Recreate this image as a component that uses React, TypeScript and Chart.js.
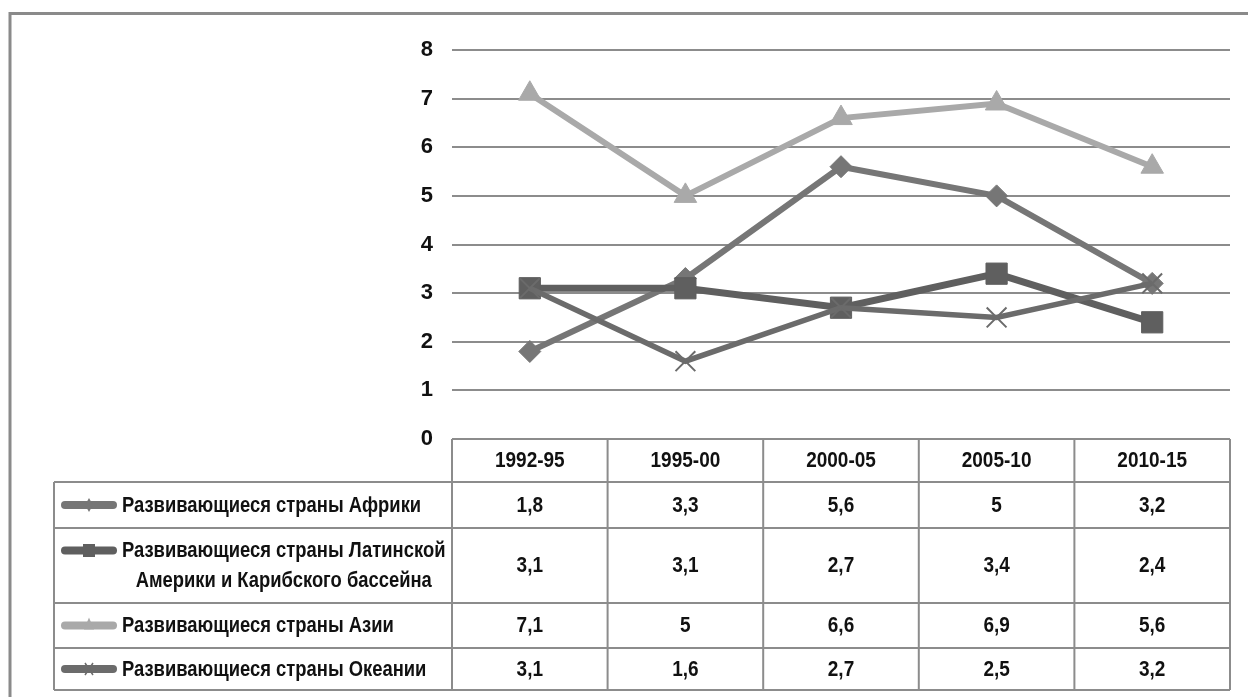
import React, { useEffect, useRef } from 'react';
import { Chart, registerables } from 'chart.js';

Chart.register(...registerables);

const categories = ['1992-95', '1995-00', '2000-05', '2005-10', '2010-15'];
const africa = [1.8, 3.3, 5.6, 5, 3.2];
const latinAmerica = [3.1, 3.1, 2.7, 3.4, 2.4];
const asia = [7.1, 5, 6.6, 6.9, 5.6];
const oceania = [3.1, 1.6, 2.7, 2.5, 3.2];
const seriesLabels = [
  ['Развивающиеся страны Африки'],
  ['Развивающиеся страны Латинской', 'Америки и Карибского бассейна'],
  ['Развивающиеся страны Азии'],
  ['Развивающиеся страны Океании'],
];
const yMin = 0;
const yMax = 8;
const yStep = 1;

const FONT = "'Liberation Sans', Arial, sans-serif";
const GRID = '#8c8c8c';
const colors = ['#767676', '#5f5f5f', '#a9a9a9', '#6b6b6b'];
const styles = ['rectRot', 'rect', 'triangle', 'crossRot'];
const seriesData = [africa, latinAmerica, asia, oceania];

const fmt = (v: number) => String(v).replace('.', ',');

function stretchedText(ctx: CanvasRenderingContext2D, text: string, x: number, y: number, sy: number) {
  ctx.save();
  ctx.translate(x, y);
  ctx.scale(1, sy);
  ctx.fillText(text, 0, 0);
  ctx.restore();
}

function drawMiniMarker(ctx: CanvasRenderingContext2D, style: string, x: number, y: number, color: string) {
  ctx.save();
  ctx.fillStyle = color;
  ctx.strokeStyle = color;
  ctx.beginPath();
  if (style === 'rectRot') {
    ctx.moveTo(x, y - 7);
    ctx.lineTo(x + 4, y);
    ctx.lineTo(x, y + 7);
    ctx.lineTo(x - 4, y);
    ctx.closePath();
    ctx.fill();
  } else if (style === 'rect') {
    ctx.rect(x - 6, y - 6.5, 12, 13);
    ctx.fill();
  } else if (style === 'triangle') {
    ctx.moveTo(x, y - 8);
    ctx.lineTo(x + 5, y + 4);
    ctx.lineTo(x - 5, y + 4);
    ctx.closePath();
    ctx.fill();
  } else {
    ctx.lineWidth = 1.5;
    ctx.moveTo(x - 4, y - 6);
    ctx.lineTo(x + 4, y + 6);
    ctx.moveTo(x + 4, y - 6);
    ctx.lineTo(x - 4, y + 6);
    ctx.stroke();
  }
  ctx.restore();
}

const framePlugin = {
  id: 'frame',
  beforeDraw(chart: any) {
    const { ctx } = chart;
    ctx.save();
    ctx.fillStyle = '#ffffff';
    ctx.fillRect(0, 0, chart.width, chart.height);
    ctx.strokeStyle = '#8a8a8a';
    ctx.lineWidth = 3;
    ctx.beginPath();
    ctx.moveTo(10, chart.height + 5);
    ctx.lineTo(10, 13.5);
    ctx.lineTo(chart.width + 5, 13.5);
    ctx.stroke();
    ctx.restore();
  },
};

const tablePlugin = {
  id: 'dataTable',
  afterDraw(chart: any) {
    const { ctx, chartArea } = chart;
    const xScale = chart.scales.x;
    const left = chartArea.left;
    const right = chartArea.right;
    const n = categories.length;
    const colW = (right - left) / n;
    const headerTop = chartArea.bottom;
    const headerBottom = headerTop + 43;
    const rowH = [46, 75, 45, 42];
    const legendLeft = 54;
    const rowTops: number[] = [];
    let yy = headerBottom;
    for (let i = 0; i < rowH.length; i++) {
      rowTops.push(yy);
      yy += rowH[i];
    }
    const tableBottom = yy;

    ctx.save();
    ctx.strokeStyle = GRID;
    ctx.lineWidth = 2;
    ctx.beginPath();
    ctx.moveTo(left, headerTop);
    ctx.lineTo(left, headerBottom);
    for (let c = 1; c <= n; c++) {
      const cx = left + c * colW;
      ctx.moveTo(cx, headerTop);
      ctx.lineTo(cx, tableBottom);
    }
    ctx.moveTo(left, headerTop);
    ctx.lineTo(right, headerTop);
    ctx.moveTo(legendLeft, headerBottom);
    ctx.lineTo(right, headerBottom);
    for (let i = 0; i < rowH.length; i++) {
      const yb = rowTops[i] + rowH[i];
      ctx.moveTo(legendLeft, yb);
      ctx.lineTo(right, yb);
    }
    ctx.moveTo(legendLeft, headerBottom);
    ctx.lineTo(legendLeft, tableBottom);
    ctx.moveTo(left, headerBottom);
    ctx.lineTo(left, tableBottom);
    ctx.stroke();

    ctx.fillStyle = '#111';
    ctx.textBaseline = 'middle';
    ctx.textAlign = 'center';
    ctx.font = `bold 19px ${FONT}`;
    categories.forEach((cat, i) => {
      stretchedText(ctx, cat, xScale.getPixelForValue(i), (headerTop + headerBottom) / 2 + 1, 1.12);
    });

    seriesData.forEach((vals, r) => {
      const cy = rowTops[r] + rowH[r] / 2 + 1;
      ctx.font = `bold 19px ${FONT}`;
      vals.forEach((v, i) => {
        ctx.textAlign = 'center';
        stretchedText(ctx, fmt(v), xScale.getPixelForValue(i), cy, 1.12);
      });
      const lines = seriesLabels[r];
      const lineGap = 30;
      const firstY = cy - ((lines.length - 1) * lineGap) / 2;
      const symY = firstY - 1;
      ctx.save();
      ctx.strokeStyle = colors[r];
      ctx.lineWidth = 8;
      ctx.lineCap = 'round';
      ctx.beginPath();
      ctx.moveTo(65, symY);
      ctx.lineTo(113, symY);
      ctx.stroke();
      ctx.restore();
      drawMiniMarker(ctx, styles[r], 89, symY, colors[r]);
      ctx.font = `bold 18.4px ${FONT}`;
      const textLeft = 122;
      const widths = lines.map((l) => ctx.measureText(l).width);
      const maxW = Math.max(...widths);
      lines.forEach((l, k) => {
        ctx.textAlign = 'center';
        stretchedText(ctx, l, textLeft + maxW / 2, firstY + k * lineGap, 1.15);
      });
    });
    ctx.restore();
  },
};

export default function App() {
  const canvasRef = useRef<HTMLCanvasElement | null>(null);

  useEffect(() => {
    if (!canvasRef.current) return;
    const lineWidths = [6, 7, 6, 5.5];
    const radii = [11, 15, 13, 14];
    const orders = [4, 3, 2, 1];
    const chart = new Chart(canvasRef.current, {
      type: 'line',
      data: {
        labels: categories,
        datasets: seriesData.map((d, i) => ({
          label: seriesLabels[i].join(' '),
          data: d,
          borderColor: colors[i],
          backgroundColor: colors[i],
          borderWidth: lineWidths[i],
          pointStyle: styles[i] as any,
          pointRadius: radii[i],
          pointHoverRadius: radii[i],
          pointBackgroundColor: colors[i],
          pointBorderColor: colors[i],
          pointBorderWidth: i === 3 ? 2 : 1,
          tension: 0,
          fill: false,
          order: orders[i],
        })),
      },
      options: {
        responsive: false,
        animation: false,
        devicePixelRatio: 1,
        layout: { padding: { left: 400, right: 18, top: 50, bottom: 258 } },
        plugins: {
          legend: { display: false },
          tooltip: { enabled: false },
          title: { display: false },
        },
        scales: {
          x: {
            type: 'category',
            display: false,
            offset: true,
            grid: { display: false },
          },
          y: {
            min: yMin,
            max: yMax,
            ticks: {
              stepSize: yStep,
              color: '#111',
              font: { family: FONT, size: 22, weight: 'bold' },
              padding: 19,
            },
            grid: { color: GRID, lineWidth: 2, drawTicks: false },
            border: { display: false },
            afterFit: (scale: any) => {
              scale.width = 52;
            },
          },
        },
      },
      plugins: [framePlugin, tablePlugin],
    });
    return () => chart.destroy();
  }, []);

  return (
    <div style={{ position: 'absolute', left: 0, top: 0, width: 1248, height: 697, background: '#fff' }}>
      <canvas ref={canvasRef} width={1248} height={697} style={{ display: 'block' }} />
    </div>
  );
}
